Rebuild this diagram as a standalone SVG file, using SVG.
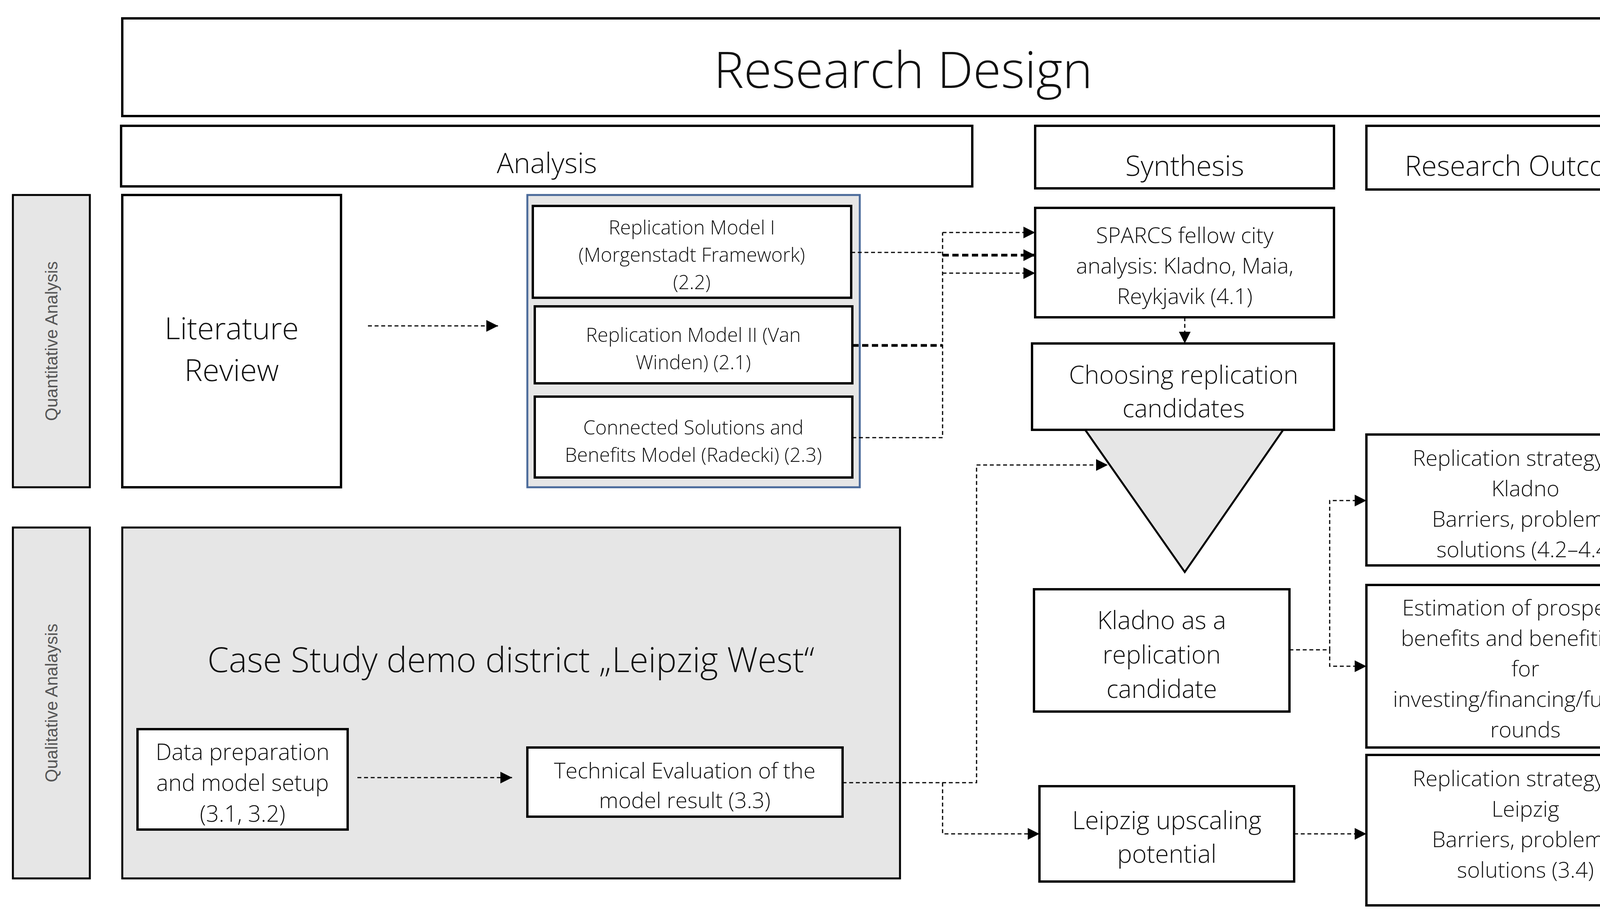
<svg xmlns="http://www.w3.org/2000/svg" width="4347" height="2357" viewBox="0 0 4347 2357">
<defs>
<marker id="ah" viewBox="0 0 10 10" refX="10" refY="5" markerWidth="10" markerHeight="10" markerUnits="userSpaceOnUse" orient="auto"><path d="M0,0 L10,5 L0,10 z" fill="#000"/></marker>
<marker id="a" viewBox="0 0 10 10" refX="10" refY="5" markerWidth="30" markerHeight="30" markerUnits="userSpaceOnUse" orient="auto"><path d="M0,0 L10,5 L0,10 z" fill="#000"/></marker>
</defs>
<style>
.b{fill:#fff;stroke:#000;stroke-width:6}
.g{fill:#e6e6e6;stroke:#000;stroke-width:5}
text{font-family:"Open Sans","Liberation Sans",sans-serif;font-weight:300;fill:#111;text-anchor:middle}
.t{font-size:50px}
.s{font-family:"Liberation Sans",sans-serif;font-weight:400;font-size:44px;fill:#555}
.c{fill:none;stroke:#000;stroke-width:3;stroke-dasharray:10 7}
.k{fill:none;stroke:#000;stroke-width:7;stroke-dasharray:16 9}
</style>
<rect width="4347" height="2357" fill="#fff"/>
<g id="title"><rect class="b" x="313" y="47" width="3998" height="250"/><text x="2312" y="225" style="font-size:130px">Research Design</text></g>
<g id="analysis"><rect class="b" x="310" y="322" width="2179" height="155"/><text x="1400" y="443" style="font-size:72px">Analysis</text></g>
<g id="synthesis"><rect class="b" x="2650" y="322" width="765" height="160"/><text x="3033" y="450" style="font-size:72px">Synthesis</text></g>
<g id="outcome"><rect class="b" x="3498" y="322" width="813" height="163"/><text x="3905" y="450" style="font-size:72px">Research Outcome</text></g>
<g id="quant"><rect class="g" x="33" y="499" width="197" height="748"/><text class="s" transform="translate(147,873) rotate(-90)">Quantitative Analysis</text></g>
<g id="qual"><rect class="g" x="33" y="1350" width="197" height="898"/><text class="s" transform="translate(147,1799) rotate(-90)">Qualitative Analaysis</text></g>
<g id="lit"><rect class="b" x="313" y="499" width="560" height="748"/><text x="593" y="868" style="font-size:78px">Literature</text><text x="593" y="975" style="font-size:78px">Review</text></g>
<g id="models"><rect x="1350" y="499" width="851" height="748" fill="#e6e6e6" stroke="#4a6a9a" stroke-width="5"/></g>
<g id="rm1"><rect class="b" x="1364" y="527" width="815" height="235"/><text class="t" x="1771" y="600">Replication Model I</text><text class="t" x="1771" y="670">(Morgenstadt Framework)</text><text class="t" x="1771" y="740">(2.2)</text></g>
<g id="rm2"><rect class="b" x="1369" y="784" width="813" height="197"/><text class="t" x="1775" y="875">Replication Model II (Van</text><text class="t" x="1775" y="945">Winden) (2.1)</text></g>
<g id="cs"><rect class="b" x="1369" y="1015" width="813" height="207"/><text class="t" x="1775" y="1112">Connected Solutions and</text><text class="t" x="1775" y="1182">Benefits Model (Radecki) (2.3)</text></g>
<g id="sparcs"><rect class="b" x="2650" y="532" width="765" height="280"/><text x="3033" y="622" style="font-size:56px">SPARCS fellow city</text><text x="3033" y="700" style="font-size:56px">analysis: Kladno, Maia,</text><text x="3033" y="778" style="font-size:56px">Reykjavik (4.1)</text></g>
<g id="choosing"><rect class="b" x="2642" y="879" width="773" height="221"/><text x="3030" y="982" style="font-size:64px">Choosing replication</text><text x="3030" y="1068" style="font-size:64px">candidates</text></g>
<g id="funnel"><polygon points="2778,1100 3285,1100 3033,1464" fill="#e6e6e6" stroke="#000" stroke-width="5"/></g>
<g id="kladno"><rect class="b" x="2647" y="1508" width="654" height="313" fill="#fff"/><text x="2974" y="1610" style="font-size:64px">Kladno as a</text><text x="2974" y="1698" style="font-size:64px">replication</text><text x="2974" y="1786" style="font-size:64px">candidate</text></g>
<g id="leipzigup"><rect class="b" x="2661" y="2012" width="652" height="244"/><text x="2987" y="2122" style="font-size:64px">Leipzig upscaling</text><text x="2987" y="2208" style="font-size:64px">potential</text></g>
<g id="rsk"><rect class="b" x="3498" y="1112" width="813" height="335"/><text x="3905" y="1192" style="font-size:56px">Replication strategy for</text><text x="3905" y="1270" style="font-size:56px">Kladno</text><text x="3905" y="1348" style="font-size:56px">Barriers, problems,</text><text x="3905" y="1426" style="font-size:56px">solutions (4.2–4.4)</text></g>
<g id="est"><rect class="b" x="3498" y="1497" width="813" height="416"/><text x="3905" y="1575" style="font-size:56px">Estimation of prospected</text><text x="3905" y="1653" style="font-size:56px">benefits and benefitiaries</text><text x="3905" y="1731" style="font-size:56px">for</text><text x="3905" y="1809" style="font-size:56px">investing/financing/funding</text><text x="3905" y="1887" style="font-size:56px">rounds</text></g>
<g id="rsl"><rect class="b" x="3498" y="1932" width="813" height="385"/><text x="3905" y="2012" style="font-size:56px">Replication strategy for</text><text x="3905" y="2090" style="font-size:56px">Leipzig</text><text x="3905" y="2168" style="font-size:56px">Barriers, problems,</text><text x="3905" y="2246" style="font-size:56px">solutions (3.4)</text></g>
<g id="case"><rect class="g" x="313" y="1350" width="1991" height="898"/><text x="1308" y="1720" style="font-size:88px">Case Study demo district „Leipzig West“</text></g>
<g id="dataprep"><rect class="b" x="352" y="1866" width="538" height="257"/><text x="621" y="1945" style="font-size:58px">Data preparation</text><text x="621" y="2024" style="font-size:58px">and model setup</text><text x="621" y="2103" style="font-size:58px">(3.1, 3.2)</text></g>
<g id="techeval"><rect class="b" x="1350" y="1913" width="807" height="177"/><text x="1753" y="1992" style="font-size:56px">Technical Evaluation of the</text><text x="1753" y="2068" style="font-size:56px">model result (3.3)</text></g>
<g id="connectors">
<path class="c" d="M942,834 H1275" marker-end="url(#a)"/>
<path class="c" d="M915,1990 H1311" marker-end="url(#a)"/>
<path class="c" d="M2179,646 H2413"/>
<path class="k" d="M2182,884 H2413"/>
<path class="c" d="M2182,1120 H2413 V595"/>
<path class="c" d="M2413,595 H2650" marker-end="url(#a)"/>
<path class="k" d="M2413,653 H2650" marker-end="url(#a)"/>
<path class="c" d="M2413,699 H2650" marker-end="url(#a)"/>
<path class="c" d="M3033,812 V879" marker-end="url(#a)"/>
<path class="c" d="M2157,2003 H2500 V1190 H2836" marker-end="url(#a)"/>
<path class="c" d="M2413,2003 V2134 H2661" marker-end="url(#a)"/>
<path class="c" d="M3301,1663 H3404 V1281 H3498" marker-end="url(#a)"/>
<path class="c" d="M3404,1663 V1705 H3498" marker-end="url(#a)"/>
<path class="c" d="M3313,2134 H3498" marker-end="url(#a)"/>
</g>
</svg>
